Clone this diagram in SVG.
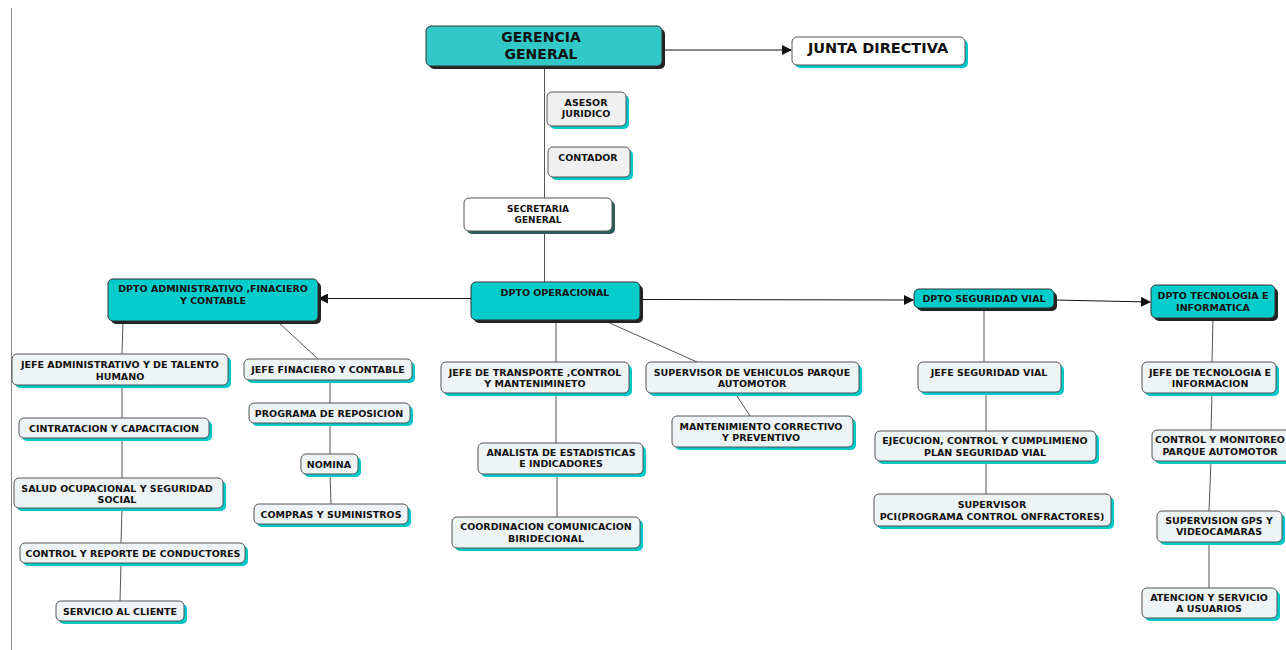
<svg xmlns="http://www.w3.org/2000/svg" width="1286" height="650" viewBox="0 0 1286 650">
<style>
text{font-family:"DejaVu Sans",Verdana,sans-serif;font-weight:bold;font-size:9.5px;fill:#111;text-anchor:middle}
.big{font-size:14px}
.sh{fill:#00c8c8}
.shd{fill:#222}
.sht{fill:#2d5c5c}
.lt{fill:#eef3f5;stroke:#555;stroke-width:1}
.gr{fill:#f0f0f0;stroke:#555;stroke-width:1}
.wh{fill:#fff;stroke:#555;stroke-width:1}
.tl{fill:#00cccc;stroke:#333;stroke-width:1}
.tl2{fill:#33c8c8;stroke:#333;stroke-width:1}
.ln{stroke:#555;stroke-width:1;fill:none}
.ar{stroke:#111;stroke-width:1;fill:none;marker-end:url(#ah)}
</style>
<defs>
<marker id="ah" markerWidth="10" markerHeight="10" refX="9" refY="5" orient="auto" markerUnits="userSpaceOnUse">
<path d="M0,0 L10,5 L0,10 z" fill="#111"/>
</marker>
</defs>
<rect width="1286" height="650" fill="#fff"/>
<line x1="11.5" y1="8" x2="11.5" y2="650" stroke="#888" stroke-width="1"/>
<g id="connectors">
<path class="ar" d="M662,50 L791,50"/>
<path class="ln" d="M544.5,66 L544.5,282"/>
<path class="ar" d="M471,298.5 L319,298.5"/>
<path class="ar" d="M640,299.5 L913,300"/>
<path class="ar" d="M1054,300 L1150,302"/>
<path class="ln" d="M123,321 L122,354"/>
<path class="ln" d="M122,385 L122,418"/>
<path class="ln" d="M122,438 L122,478"/>
<path class="ln" d="M122,508 L121,543"/>
<path class="ln" d="M121,563 L120,601"/>
<path class="ln" d="M278,322 L318,359"/>
<path class="ln" d="M330,380 L330,403"/>
<path class="ln" d="M330,423 L330,454"/>
<path class="ln" d="M330,474 L331,504"/>
<path class="ln" d="M556,320 L556,362"/>
<path class="ln" d="M603,320 L697,362"/>
<path class="ln" d="M735,393 L750,416"/>
<path class="ln" d="M556,393 L556,443"/>
<path class="ln" d="M557,474 L557,517"/>
<path class="ln" d="M984,308 L984,362"/>
<path class="ln" d="M986,392 L986,431"/>
<path class="ln" d="M986,461 L986,494"/>
<path class="ln" d="M1213,318 L1212,362"/>
<path class="ln" d="M1212,393 L1211,430"/>
<path class="ln" d="M1211,461 L1209,511"/>
<path class="ln" d="M1209,542 L1209,588"/>
</g>
<g id="gerencia">
<rect class="shd" x="429" y="29" width="236" height="40" rx="5"/>
<rect class="tl2" x="426" y="26" width="236" height="40" rx="5"/>
<text class="big" x="541" y="42">GERENCIA</text>
<text class="big" x="541" y="59">GENERAL</text>
</g>
<g id="junta">
<rect class="sh" x="795" y="40" width="173" height="28" rx="5"/>
<rect class="wh" x="792" y="37" width="173" height="28" rx="5"/>
<text class="big" x="878" y="53" style="font-size:14.5px">JUNTA DIRECTIVA</text>
</g>
<g id="asesor">
<rect class="sh" x="550" y="95" width="79" height="34" rx="5"/>
<rect class="gr" x="547" y="92" width="79" height="34" rx="5"/>
<text x="586" y="106">ASESOR</text>
<text x="586" y="117">JURIDICO</text>
</g>
<g id="contador">
<rect class="sh" x="551" y="150" width="82" height="30" rx="5"/>
<rect class="gr" x="548" y="147" width="82" height="30" rx="5"/>
<text x="588" y="161">CONTADOR</text>
</g>
<g id="secretaria">
<rect class="sht" x="467" y="201" width="148" height="33" rx="5"/>
<rect class="wh" x="464" y="198" width="148" height="33" rx="5"/>
<text x="538" y="212" style="font-size:9px">SECRETARIA</text>
<text x="538" y="223" style="font-size:9px">GENERAL</text>
</g>
<g id="dpto-operacional">
<rect class="shd" x="474" y="285" width="169" height="38" rx="5"/>
<rect class="tl" x="471" y="282" width="169" height="38" rx="5"/>
<text x="555" y="296">DPTO OPERACIONAL</text>
</g>
<g id="dpto-administrativo">
<rect class="shd" x="111" y="282" width="210" height="42" rx="5"/>
<rect class="tl" x="108" y="279" width="210" height="42" rx="5"/>
<text x="213" y="292">DPTO ADMINISTRATIVO ,FINACIERO</text>
<text x="213" y="304">Y CONTABLE</text>
</g>
<g id="dpto-seguridad-vial">
<rect class="shd" x="917" y="292" width="140" height="19" rx="5"/>
<rect class="tl" x="914" y="289" width="140" height="19" rx="5"/>
<text x="984" y="302">DPTO SEGURIDAD VIAL</text>
</g>
<g id="dpto-tecnologia">
<rect class="shd" x="1154" y="288" width="124" height="33" rx="5"/>
<rect class="tl" x="1151" y="285" width="124" height="33" rx="5"/>
<text x="1213" y="299">DPTO TECNOLOGIA E</text>
<text x="1213" y="311">INFORMATICA</text>
</g>
<g id="jefe-administrativo">
<rect class="sh" x="15" y="357" width="216" height="31" rx="5"/>
<rect class="lt" x="12" y="354" width="216" height="31" rx="5"/>
<text x="120" y="368">JEFE ADMINISTRATIVO Y DE TALENTO</text>
<text x="120" y="380">HUMANO</text>
</g>
<g id="cintratacion">
<rect class="sh" x="22" y="421" width="190" height="20" rx="5"/>
<rect class="lt" x="19" y="418" width="190" height="20" rx="5"/>
<text x="114" y="432">CINTRATACION Y CAPACITACION</text>
</g>
<g id="salud">
<rect class="sh" x="17" y="481" width="209" height="30" rx="5"/>
<rect class="lt" x="14" y="478" width="209" height="30" rx="5"/>
<text x="117" y="492">SALUD OCUPACIONAL Y SEGURIDAD</text>
<text x="117" y="503">SOCIAL</text>
</g>
<g id="control-reporte">
<rect class="sh" x="23" y="546" width="225" height="20" rx="5"/>
<rect class="lt" x="20" y="543" width="225" height="20" rx="5"/>
<text x="133" y="557">CONTROL Y REPORTE DE CONDUCTORES</text>
</g>
<g id="servicio-cliente">
<rect class="sh" x="59" y="604" width="128" height="20" rx="5"/>
<rect class="lt" x="56" y="601" width="128" height="20" rx="5"/>
<text x="120" y="615">SERVICIO AL CLIENTE</text>
</g>
<g id="jefe-financiero">
<rect class="sh" x="247" y="362" width="168" height="21" rx="5"/>
<rect class="lt" x="244" y="359" width="168" height="21" rx="5"/>
<text x="328" y="373">JEFE FINACIERO Y CONTABLE</text>
</g>
<g id="programa-reposicion">
<rect class="sh" x="252" y="406" width="161" height="20" rx="5"/>
<rect class="lt" x="249" y="403" width="161" height="20" rx="5"/>
<text x="329" y="417">PROGRAMA DE REPOSICION</text>
</g>
<g id="nomina">
<rect class="sh" x="304" y="457" width="57" height="20" rx="5"/>
<rect class="lt" x="301" y="454" width="57" height="20" rx="5"/>
<text x="329" y="468">NOMINA</text>
</g>
<g id="compras">
<rect class="sh" x="257" y="507" width="154" height="20" rx="5"/>
<rect class="lt" x="254" y="504" width="154" height="20" rx="5"/>
<text x="331" y="518">COMPRAS Y SUMINISTROS</text>
</g>
<g id="jefe-transporte">
<rect class="sh" x="444" y="365" width="188" height="31" rx="5"/>
<rect class="lt" x="441" y="362" width="188" height="31" rx="5"/>
<text x="535" y="376">JEFE DE TRANSPORTE ,CONTROL</text>
<text x="535" y="387">Y MANTENIMINETO</text>
</g>
<g id="supervisor-vehiculos">
<rect class="sh" x="649" y="365" width="213" height="31" rx="5"/>
<rect class="lt" x="646" y="362" width="213" height="31" rx="5"/>
<text x="752" y="376">SUPERVISOR DE VEHICULOS PARQUE</text>
<text x="752" y="387">AUTOMOTOR</text>
</g>
<g id="mantenimiento">
<rect class="sh" x="675" y="419" width="181" height="31" rx="5"/>
<rect class="lt" x="672" y="416" width="181" height="31" rx="5"/>
<text x="761" y="430">MANTENIMIENTO CORRECTIVO</text>
<text x="761" y="441">Y PREVENTIVO</text>
</g>
<g id="analista">
<rect class="sh" x="481" y="446" width="165" height="31" rx="5"/>
<rect class="lt" x="478" y="443" width="165" height="31" rx="5"/>
<text x="561" y="456">ANALISTA DE ESTADISTICAS</text>
<text x="561" y="467">E INDICADORES</text>
</g>
<g id="coordinacion">
<rect class="sh" x="455" y="520" width="188" height="31" rx="5"/>
<rect class="lt" x="452" y="517" width="188" height="31" rx="5"/>
<text x="546" y="530">COORDINACION COMUNICACION</text>
<text x="546" y="542">BIRIDECIONAL</text>
</g>
<g id="jefe-seguridad-vial">
<rect class="sh" x="921" y="365" width="143" height="30" rx="5"/>
<rect class="lt" x="918" y="362" width="143" height="30" rx="5"/>
<text x="989" y="376">JEFE SEGURIDAD VIAL</text>
</g>
<g id="ejecucion">
<rect class="sh" x="878" y="434" width="221" height="30" rx="5"/>
<rect class="lt" x="875" y="431" width="221" height="30" rx="5"/>
<text x="985" y="444">EJECUCION, CONTROL Y CUMPLIMIENO</text>
<text x="985" y="456">PLAN SEGURIDAD VIAL</text>
</g>
<g id="supervisor-pci">
<rect class="sh" x="877" y="497" width="237" height="32" rx="5"/>
<rect class="lt" x="874" y="494" width="237" height="32" rx="5"/>
<text x="992" y="508">SUPERVISOR</text>
<text x="992" y="520">PCI(PROGRAMA CONTROL ONFRACTORES)</text>
</g>
<g id="jefe-tecnologia">
<rect class="sh" x="1145" y="365" width="134" height="31" rx="5"/>
<rect class="lt" x="1142" y="362" width="134" height="31" rx="5"/>
<text x="1210" y="376">JEFE DE TECNOLOGIA E</text>
<text x="1210" y="387">INFORMACION</text>
</g>
<g id="control-monitoreo">
<rect class="sh" x="1155" y="433" width="140" height="31" rx="5"/>
<rect class="lt" x="1152" y="430" width="140" height="31" rx="5"/>
<text x="1220" y="443">CONTROL Y MONITOREO</text>
<text x="1220" y="455">PARQUE AUTOMOTOR</text>
</g>
<g id="supervision-gps">
<rect class="sh" x="1160" y="514" width="125" height="31" rx="5"/>
<rect class="lt" x="1157" y="511" width="125" height="31" rx="5"/>
<text x="1219" y="524">SUPERVISION GPS Y</text>
<text x="1219" y="535">VIDEOCAMARAS</text>
</g>
<g id="atencion">
<rect class="sh" x="1145" y="591" width="135" height="30" rx="5"/>
<rect class="lt" x="1142" y="588" width="135" height="30" rx="5"/>
<text x="1209" y="601">ATENCION Y SERVICIO</text>
<text x="1209" y="612">A USUARIOS</text>
</g>
</svg>
